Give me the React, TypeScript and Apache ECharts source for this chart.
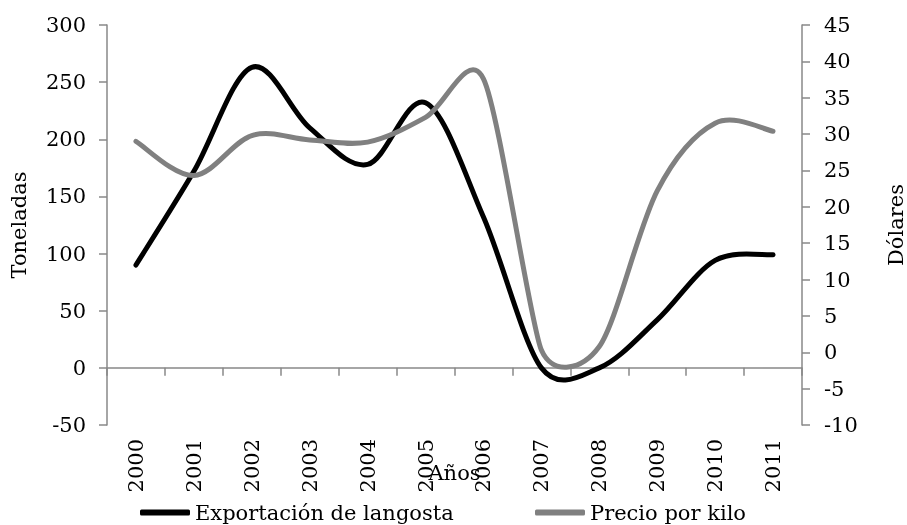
import React, { useEffect, useRef } from "react";
import * as echarts from "echarts";

const years = ["2000", "2001", "2002", "2003", "2004", "2005", "2006", "2007", "2008", "2009", "2010", "2011"];
const exportacion = [90, 172, 263, 210, 178, 232, 132, 0, 0, 42, 94, 99];
const precio = [29.0, 24.3, 29.8, 29.2, 28.9, 32.3, 37.6, 0.3, 0.8, 22.2, 31.5, 30.4];
const leftTicks = { min: -50, max: 300, interval: 50 };
const rightTicks = { min: -10, max: 45, interval: 5 };
const seriesNames = ["Exportación de langosta", "Precio por kilo"];

const FONT = "DejaVu Serif";
const FS = 21;

// Excel-like smoothing: Catmull-Rom tangents, clamped to half of the shorter adjacent chord
function smoothRender(values: number[], color: string) {
  return (params: any, api: any) => {
    if (params.dataIndex !== 0) return { type: "group", children: [] };
    const pts: number[][] = values.map((v, i) => api.coord([i, v]));
    const n = pts.length;
    const dist = (a: number[], b: number[]) => Math.hypot(b[0] - a[0], b[1] - a[1]);
    const tangents = pts.map((p, i) => {
      const a = pts[Math.max(0, i - 1)];
      const b = pts[Math.min(n - 1, i + 1)];
      const tx = b[0] - a[0];
      const ty = b[1] - a[1];
      const d02 = Math.hypot(tx, ty) || 1;
      let len = d02 / 6;
      const dPrev = i > 0 ? dist(pts[i - 1], p) : Infinity;
      const dNext = i < n - 1 ? dist(p, pts[i + 1]) : Infinity;
      len = Math.min(len, dPrev / 2, dNext / 2);
      return [(tx / d02) * len, (ty / d02) * len];
    });
    let d = `M${pts[0][0]},${pts[0][1]}`;
    for (let i = 0; i < n - 1; i++) {
      const p1 = pts[i];
      const p2 = pts[i + 1];
      const c1x = p1[0] + tangents[i][0];
      const c1y = p1[1] + tangents[i][1];
      const c2x = p2[0] - tangents[i + 1][0];
      const c2y = p2[1] - tangents[i + 1][1];
      d += ` C${c1x},${c1y} ${c2x},${c2y} ${p2[0]},${p2[1]}`;
    }
    return {
      type: "path",
      shape: { pathData: d },
      style: { stroke: color, lineWidth: 5, fill: "none", lineJoin: "round", lineCap: "round" },
    };
  };
}

export default function App() {
  const ref = useRef<HTMLDivElement>(null);
  useEffect(() => {
    if (!ref.current) return;
    const chart = echarts.init(ref.current, undefined, { renderer: "svg" });
    const axisLine = { show: true, lineStyle: { color: "#888888", width: 1.5 } };
    const tickStyle = { show: true, length: 8, lineStyle: { color: "#888888", width: 1.5 } };
    const txt = { fontFamily: FONT, fontSize: FS, color: "#000" };
    const legendBase = {
      top: 497,
      itemWidth: 50,
      itemHeight: 6,
      icon: "roundRect",
      textStyle: txt,
      selectedMode: false,
    };
    chart.setOption({
      animation: false,
      textStyle: { fontFamily: FONT, color: "#000" },
      grid: { left: 107, right: 105, top: 25, bottom: 100, containLabel: false, outerBoundsMode: "none" },
      legend: [
        { ...legendBase, left: 135, data: [{ name: seriesNames[0], itemStyle: { color: "#000" } }] },
        { ...legendBase, left: 530, data: [{ name: seriesNames[1], itemStyle: { color: "#808080" } }] },
      ],
      xAxis: {
        type: "category",
        data: years,
        boundaryGap: true,
        axisLine: { ...axisLine, onZero: true, onZeroAxisIndex: 0 },
        axisTick: { ...tickStyle, alignWithLabel: false },
        axisLabel: { ...txt, rotate: 90, margin: 14 },
        name: "Años",
        nameLocation: "middle",
        nameGap: 37,
        nameMoveOverlap: false,
        nameTextStyle: txt,
      },
      yAxis: [
        {
          type: "value",
          position: "left",
          min: leftTicks.min,
          max: leftTicks.max,
          interval: leftTicks.interval,
          splitLine: { show: false },
          axisLine,
          axisTick: tickStyle,
          axisLabel: { ...txt, margin: 21 },
          name: "Toneladas",
          nameLocation: "middle",
          nameGap: 78,
          nameTextStyle: txt,
        },
        {
          type: "value",
          position: "right",
          min: rightTicks.min,
          max: rightTicks.max,
          interval: rightTicks.interval,
          splitLine: { show: false },
          axisLine,
          axisTick: tickStyle,
          axisLabel: { ...txt, margin: 22 },
          name: "Dólares",
          nameLocation: "middle",
          nameGap: 83,
          nameTextStyle: txt,
        },
      ],
      series: [
        {
          name: seriesNames[0],
          type: "custom",
          yAxisIndex: 0,
          data: exportacion.map((v, i) => [i, v]),
          encode: { x: 0, y: 1 },
          renderItem: smoothRender(exportacion, "#000000"),
          itemStyle: { color: "#000000" },
          z: 2,
        },
        {
          name: seriesNames[1],
          type: "custom",
          yAxisIndex: 1,
          data: precio.map((v, i) => [i, v]),
          encode: { x: 0, y: 1 },
          renderItem: smoothRender(precio, "#808080"),
          itemStyle: { color: "#808080" },
          z: 3,
        },
      ],
    });
    return () => chart.dispose();
  }, []);
  return <div ref={ref} style={{ position: "fixed", left: 0, top: 0, width: 907, height: 525 }} />;
}
